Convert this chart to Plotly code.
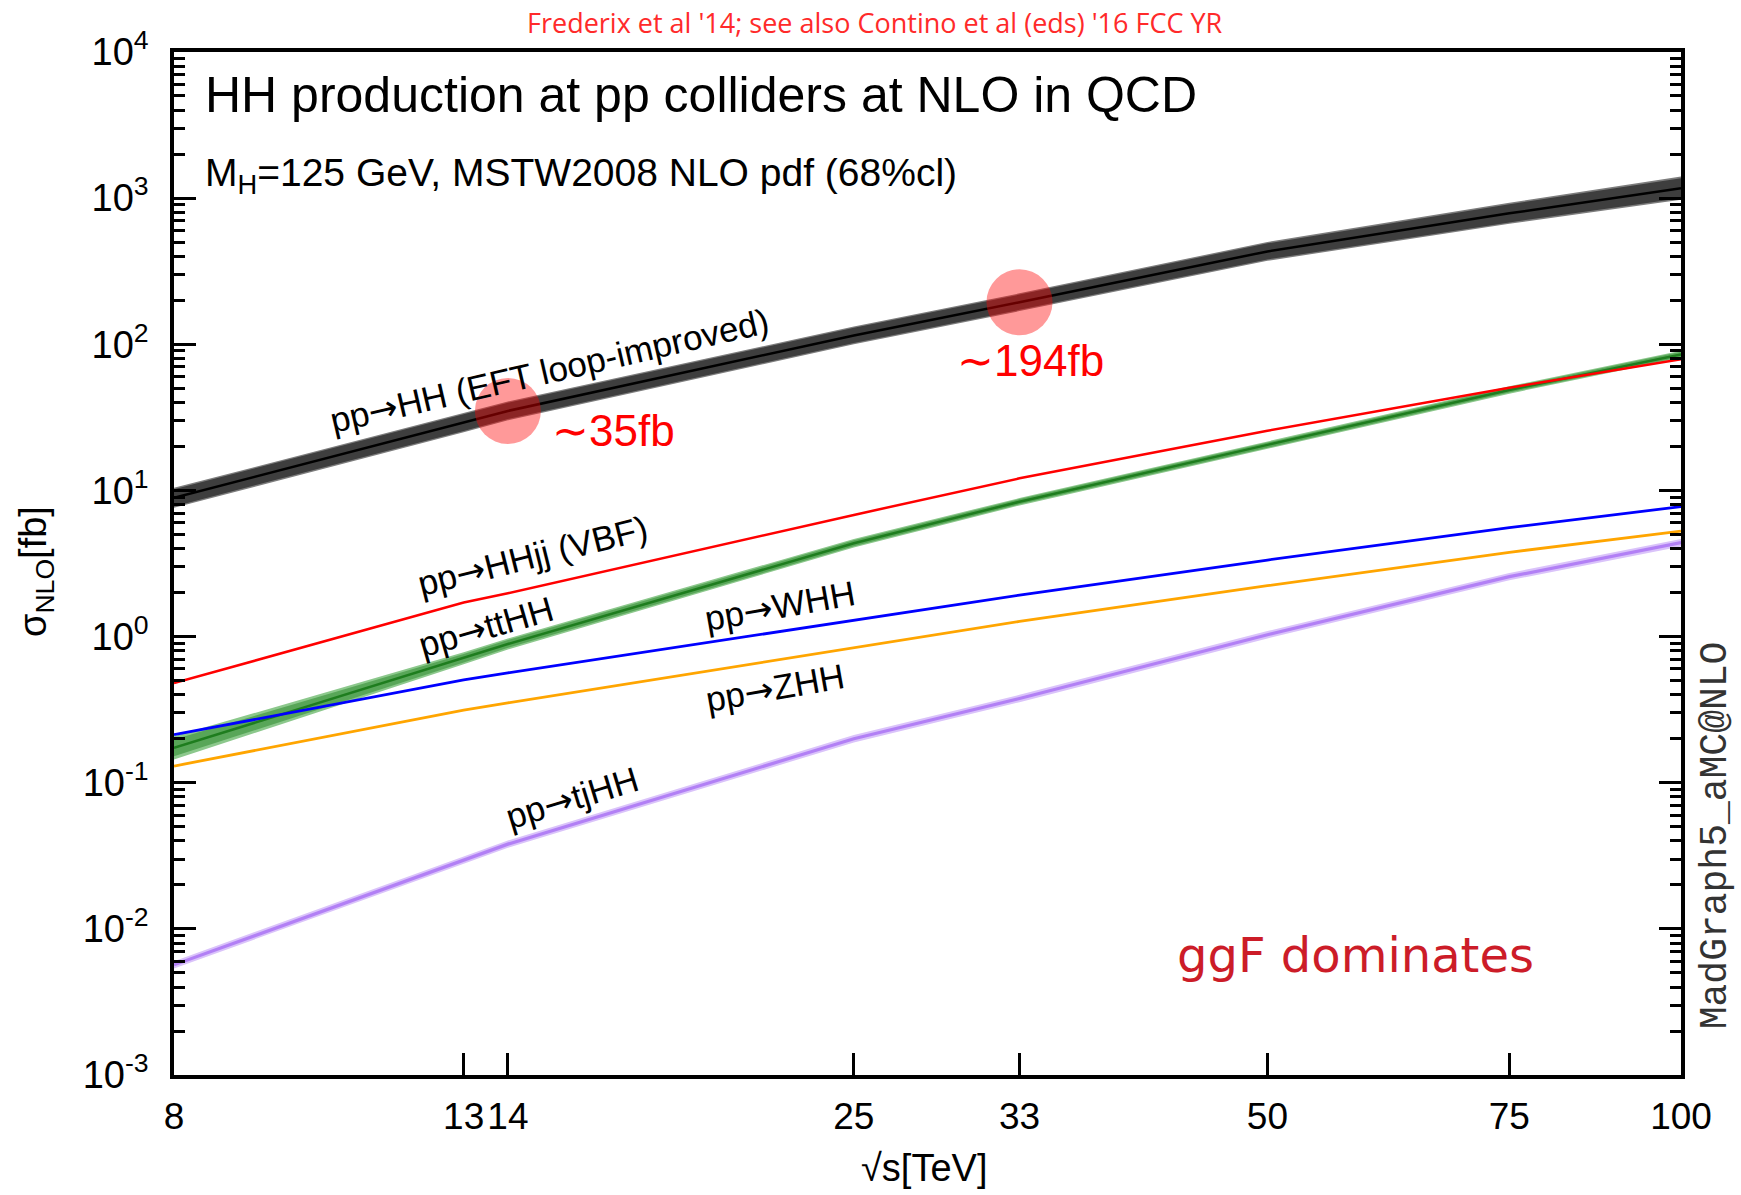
import numpy as np
import plotly.graph_objects as go

# Collider energies (TeV)
sqrt_s = [8, 13, 14, 25, 33, 50, 75, 100]

# NLO cross sections in fb
xs_hh = [8.9, 29.0, 35.0, 115.0, 194.0, 432.0, 787.0, 1170.0]
xs_vbf = [0.48, 1.71, 1.98, 6.8, 12.1, 25.6, 50.5, 79.0]
xs_tthh = [0.173, 0.71, 0.89, 4.35, 8.37, 20.5, 48.7, 85.3]
xs_whh = [0.213, 0.505, 0.565, 1.30, 1.92, 3.34, 5.56, 7.75]
xs_zhh = [0.130, 0.314, 0.352, 0.845, 1.27, 2.23, 3.77, 5.27]
xs_tjhh = [0.00567, 0.0296, 0.038, 0.20, 0.377, 1.03, 2.57, 4.39]

# Total uncertainty (scale + pdf), percent
unc_hh = [17, 16, 16, 15, 15, 16, 18, 20]
unc_tthh = [20, 10, 9, 7, 6, 6, 6, 6]
unc_tjhh = [6, 6, 6, 6, 6, 6, 6, 6]

# Highlighted energies
highlight_s = [14, 33]
highlight_text = ["\u223c35fb", "\u223c194fb"]

x_tickvals = [8, 13, 14, 25, 33, 50, 75, 100]
y_exponents = [-3, -2, -1, 0, 1, 2, 3, 4]

FONT = "Liberation Sans, Arial, Helvetica, sans-serif"
ARROW = '<span style="font-family:DejaVu Sans">\u2192</span>'

fig = go.Figure()


def band(x, y, pct, scale, color):
    hi = [v * (1 + scale * p / 100.0) for v, p in zip(y, pct)]
    lo = [v / (1 + scale * p / 100.0) for v, p in zip(y, pct)]
    return go.Scatter(x=list(x) + list(x)[::-1], y=hi + lo[::-1], fill="toself",
                      fillcolor=color, line=dict(width=0), mode="lines",
                      hoverinfo="skip", showlegend=False)


def curve(x, y, color, width):
    return go.Scatter(x=x, y=y, mode="lines", line=dict(color=color, width=width),
                      showlegend=False, hoverinfo="skip")


# gluon fusion HH
fig.add_trace(band(sqrt_s, xs_hh, unc_hh, 1.0, "rgb(125,125,125)"))
fig.add_trace(band(sqrt_s, xs_hh, unc_hh, 0.85, "rgb(62,62,62)"))
fig.add_trace(curve(sqrt_s, xs_hh, "black", 2.5))

# ttHH
fig.add_trace(band(sqrt_s, xs_tthh, unc_tthh, 1.0, "rgb(140,200,140)"))
fig.add_trace(band(sqrt_s, xs_tthh, unc_tthh, 0.7, "rgb(88,166,88)"))
fig.add_trace(curve(sqrt_s, xs_tthh, "rgb(30,125,30)", 2.5))

# tjHH
fig.add_trace(band(sqrt_s, xs_tjhh, unc_tjhh, 1.0, "rgb(218,195,250)"))
fig.add_trace(curve(sqrt_s, xs_tjhh, "rgb(178,128,245)", 3.2))

# VBF, WHH, ZHH
fig.add_trace(curve(sqrt_s, xs_vbf, "#ff0000", 2.5))
fig.add_trace(curve(sqrt_s, xs_whh, "#0000ff", 2.8))
fig.add_trace(curve(sqrt_s, xs_zhh, "#ffa500", 2.8))

# highlighted HH points
hl_y = [xs_hh[sqrt_s.index(s)] for s in highlight_s]
fig.add_trace(go.Scatter(x=highlight_s, y=hl_y, mode="markers",
                         marker=dict(size=66, color="rgba(255,0,0,0.4)", line=dict(width=0)),
                         showlegend=False, hoverinfo="skip"))

annotations = []


def data_label(text, s, sig, angle, size=35, color="black"):
    annotations.append(dict(x=np.log10(s), y=np.log10(sig), xref="x", yref="y",
                            text=text, showarrow=False, textangle=angle,
                            font=dict(family=FONT, size=size, color=color),
                            xanchor="center", yanchor="middle"))


data_label("pp" + ARROW + "HH (EFT loop-improved)", 15.0, 65.6, -13)
data_label("pp" + ARROW + "HHjj (VBF)", 14.6, 3.56, -14)
data_label("pp" + ARROW + "ttHH", 13.5, 1.16, -16)
data_label("pp" + ARROW + "WHH", 22.1, 1.62, -10)
data_label("pp" + ARROW + "ZHH", 21.9, 0.445, -10)
data_label("pp" + ARROW + "tjHH", 15.6, 0.0785, -17)

# value callouts next to the highlighted points
data_label(highlight_text[0], 16.7, 25.9, 0, size=44, color="#ff0000")
data_label(highlight_text[1], 33.6, 78.0, 0, size=44, color="#ff0000")


def paper_text(text, x, y, size, color="black", family=FONT, angle=0, xanchor="center"):
    annotations.append(dict(x=x, y=y, xref="paper", yref="paper", text=text,
                            showarrow=False, textangle=angle, xanchor=xanchor,
                            yanchor="middle", font=dict(family=family, size=size, color=color)))


paper_text("HH production at pp colliders at NLO in QCD", 0.019, 0.958, 50, xanchor="left")
paper_text("M<sub>H</sub>=125 GeV, MSTW2008 NLO pdf (68%cl)", 0.019, 0.879, 39, xanchor="left")
paper_text("Frederix et al '14; see also Contino et al (eds) '16 FCC YR", 0.465, 1.029, 27,
           color="#ff2a2a", family="Open Sans, sans-serif")
paper_text("ggF dominates", 0.784, 0.117, 48, color="#cc1c28", family="DejaVu Sans")
paper_text("MadGraph5_aMC@NLO", 1.023, 0.234, 38, color="#333333",
           family="Liberation Mono, Courier New, monospace", angle=-90)
paper_text("\u03c3<sub>NLO</sub>[fb]", -0.092, 0.492, 38, angle=-90)
paper_text("\u221as[TeV]", 0.498, -0.091, 38)

y_tickvals = [10.0 ** e for e in y_exponents]
y_ticktext = ["10<sup>%d</sup>" % e for e in y_exponents]
y_minor = [m * 10.0 ** e for e in y_exponents[:-1] for m in range(2, 10)]

fig.update_layout(
    width=1741, height=1195,
    margin=dict(l=174, r=60, t=52, b=120),
    paper_bgcolor="white", plot_bgcolor="white",
    annotations=annotations,
    xaxis=dict(type="log", range=[np.log10(8), 2], tickmode="array",
               tickvals=x_tickvals, ticktext=[str(v) for v in x_tickvals],
               ticks="inside", ticklen=22, tickwidth=3, tickcolor="black",
               showline=True, linewidth=3.5, linecolor="black", mirror=True,
               showgrid=False, zeroline=False, ticklabelstandoff=6,
               tickfont=dict(family=FONT, size=37, color="black")),
    yaxis=dict(type="log", range=[-3, 4], tickmode="array",
               tickvals=y_tickvals, ticktext=y_ticktext,
               ticks="inside", ticklen=22, tickwidth=3, tickcolor="black",
               minor=dict(tickmode="array", tickvals=y_minor, ticks="inside",
                          ticklen=11, tickwidth=3, tickcolor="black", showgrid=False),
               showline=True, linewidth=3.5, linecolor="black", mirror="ticks",
               showgrid=False, zeroline=False, ticklabelstandoff=14,
               tickfont=dict(family=FONT, size=38, color="black")),
)

fig.write_html("out.html")
